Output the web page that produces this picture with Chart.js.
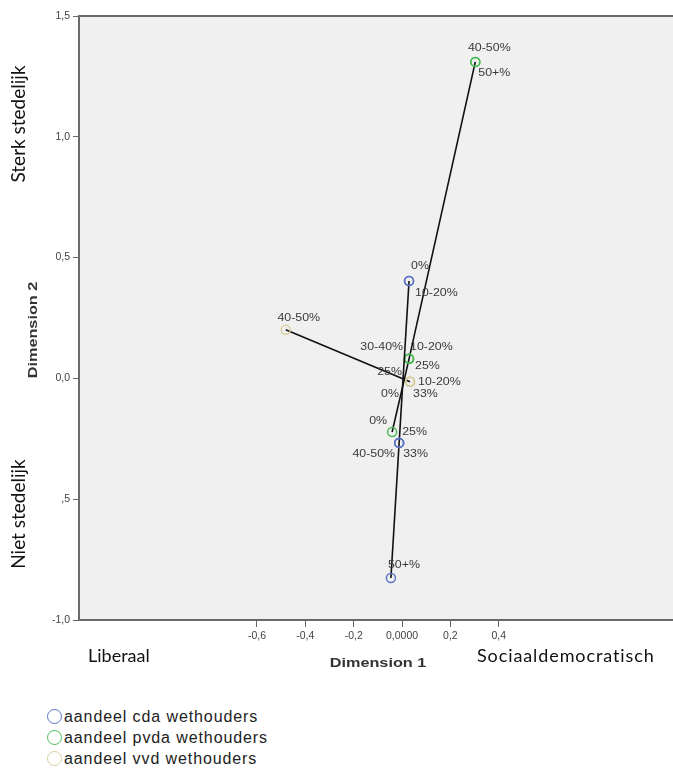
<!DOCTYPE html>
<html>
<head>
<meta charset="utf-8">
<script src="https://cdn.jsdelivr.net/npm/chart.js@4.4.1/dist/chart.umd.min.js"></script>
<style>
  html, body { margin: 0; padding: 0; background: #fff; overflow: hidden; width: 673px; height: 782px; }
  #wrap { position: absolute; left: 0; top: 0; width: 700px; height: 690px; }
  .note { position: absolute; font-family: Lato, "Open Sans", sans-serif; font-size: 18px; color: #111; white-space: nowrap; }
  .rot { transform: translate(-50%, -50%) rotate(-90deg); }
  #legend { position: absolute; left: 47px; top: 706px; font-family: "Liberation Sans", Arial, sans-serif; font-size: 16px; letter-spacing: 0.9px; color: #222; }
  #legend .row { height: 21px; line-height: 21px; display: flex; align-items: center; }
  #legend .dot { width: 13px; height: 13px; border-radius: 50%; border: 1.6px solid; margin-right: 2px; box-sizing: content-box; }
</style>
</head>
<body>
<div id="wrap"><canvas id="chart" width="700" height="690"></canvas></div>

<div class="note rot" style="left:17px; top:124px; font-size:19px;">Sterk stedelijk</div>
<div class="note rot" style="left:17px; top:514px; font-size:19px;">Niet stedelijk</div>
<div class="note" style="left:88px; top:644px;">Liberaal</div>
<div class="note" style="left:477px; top:644px; letter-spacing:0.9px;">Sociaaldemocratisch</div>

<div id="legend"></div>

<script>
// category points (object scores)
const cdaLabels = ['0%', '10-20%', '25%', '33%', '40-50%', '50+%'];
const cdaX = [0.029, 0.029, -0.012, -0.012, -0.012, -0.046];
const cdaY = [0.403, 0.403, -0.267, -0.267, -0.267, -0.826];

const pvdaLabels = ['0%', '10-20%', '25%', '30-40%', '40-50%', '50+%'];
const pvdaX = [-0.041, 0.029, 0.029, 0.029, 0.303, 0.303];
const pvdaY = [-0.222, 0.081, 0.081, 0.081, 1.310, 1.310];

const vvdLabels = ['0%', '10-20%', '25%', '33%', '40-50%'];
const vvdX = [0.033, 0.033, 0.033, 0.033, -0.481];
const vvdY = [-0.014, -0.014, -0.014, -0.014, 0.201];

const seriesNames = ['aandeel cda wethouders', 'aandeel pvda wethouders', 'aandeel vvd wethouders'];

const xTicks = [-0.6, -0.4, -0.2, 0, 0.2, 0.4];
const xTickLabels = ['-0,6', '-0,4', '-0,2', '0,0000', '0,2', '0,4'];
const yTicks = [-1.0, -0.5, 0, 0.5, 1.0, 1.5];
const yTickLabels = ['-1,0', ',5', '0,0', '0,5', '1,0', '1,5'];

// label placement around each point: [dx, dy, align]
const cdaLabelPos = [[11, -15, 'center'], [6, 12, 'left'], [3, -11, 'left'], [4, 11, 'left'], [-4, 11, 'right'], [-3, -13, 'left']];
const pvdaLabelPos = [[-5, -11, 'right'], [1, -12, 'left'], [6, 7, 'left'], [-6, -12, 'right'], [14, -14, 'center'], [3, 11, 'left']];
const vvdLabelPos = [[-11, 12, 'right'], [8, 0, 'left'], [-8, -10, 'right'], [3, 12, 'left'], [13, -12, 'center']];

const colors = ['#5b74c4', '#4cbb56', '#d6cf9f'];
const FONT = '"Liberation Sans", Arial, sans-serif';

function pts(xs, ys) {
  return xs.map((x, i) => ({ x, y: ys[i] }));
}

function makeSet(name, xs, ys, color, labels, pos) {
  return {
    label: name,
    data: pts(xs, ys),
    showLine: true,
    borderColor: '#111',
    borderWidth: 1.6,
    pointRadius: 4.5,
    pointBorderWidth: 1.5,
    pointBorderColor: color,
    pointBackgroundColor: 'rgba(0,0,0,0)',
    pointLabels: labels,
    pointLabelPos: pos
  };
}

const bgFrame = {
  id: 'bgFrame',
  beforeDraw(chart) {
    const { ctx, chartArea: a } = chart;
    ctx.save();
    ctx.fillStyle = '#f0f0f0';
    ctx.fillRect(a.left, a.top, a.right - a.left + 10, a.bottom - a.top);
    ctx.strokeStyle = '#6a6a6a';
    ctx.lineWidth = 2;
    ctx.beginPath();
    ctx.moveTo(a.right + 10, a.top);
    ctx.lineTo(a.left, a.top);
    ctx.lineTo(a.left, a.bottom);
    ctx.lineTo(a.right + 10, a.bottom);
    ctx.stroke();
    ctx.restore();
  }
};

// the SPSS export is stretched sideways, so text is drawn a bit wide
function wideText(ctx, text, x, y, sx) {
  ctx.save();
  ctx.translate(x, y);
  ctx.scale(sx, 1);
  ctx.fillText(text, 0, 0);
  ctx.restore();
}

const pointLabels = {
  id: 'pointLabels',
  afterDatasetsDraw(chart) {
    const ctx = chart.ctx;
    ctx.save();
    ctx.font = '10.5px ' + FONT;
    ctx.fillStyle = '#3a3a3a';
    ctx.textBaseline = 'middle';
    chart.data.datasets.forEach((ds, di) => {
      const meta = chart.getDatasetMeta(di);
      meta.data.forEach((el, i) => {
        const p = ds.pointLabelPos[i];
        ctx.textAlign = p[2];
        wideText(ctx, ds.pointLabels[i], el.x + p[0], el.y + p[1], 1.18);
      });
    });
    ctx.restore();
  }
};

const axisTitles = {
  id: 'axisTitles',
  afterDraw(chart) {
    const ctx = chart.ctx;
    ctx.save();
    ctx.font = 'bold 13px ' + FONT;
    ctx.fillStyle = '#333';
    ctx.textAlign = 'center';
    ctx.textBaseline = 'middle';
    wideText(ctx, 'Dimension 1', 378, 663, 1.25);
    ctx.translate(33, 330);
    ctx.rotate(-Math.PI / 2);
    wideText(ctx, 'Dimension 2', 0, 0, 1.25);
    ctx.restore();
  }
};

new Chart(document.getElementById('chart'), {
  type: 'scatter',
  data: {
    datasets: [
      makeSet(seriesNames[0], cdaX, cdaY, colors[0], cdaLabels, cdaLabelPos),
      makeSet(seriesNames[1], pvdaX, pvdaY, colors[1], pvdaLabels, pvdaLabelPos),
      makeSet(seriesNames[2], vvdX, vvdY, colors[2], vvdLabels, vvdLabelPos)
    ]
  },
  options: {
    responsive: false,
    devicePixelRatio: 1,
    animation: false,
    layout: { padding: { top: 16, left: 0, right: 0, bottom: 0 } },
    plugins: { legend: { display: false }, tooltip: { enabled: false } },
    scales: {
      x: {
        type: 'linear',
        min: -1.336,
        max: 1.2075,
        afterBuildTicks: s => { s.ticks = xTicks.map(v => ({ value: v })); },
        afterFit: s => { s.height = 70; },
        ticks: {
          autoSkip: false, maxRotation: 0, padding: 3, color: '#444',
          font: { size: 10.5, family: FONT },
          callback: v => xTickLabels[xTicks.indexOf(v)]
        },
        grid: { drawOnChartArea: false, drawTicks: true, tickLength: 7, color: '#666' },
        border: { display: false }
      },
      y: {
        type: 'linear',
        min: -1.0,
        max: 1.5,
        afterBuildTicks: s => { s.ticks = yTicks.map(v => ({ value: v })); },
        afterFit: s => { s.width = 79; },
        ticks: {
          autoSkip: false, padding: 3, color: '#444',
          font: { size: 10.5, family: FONT },
          callback: v => yTickLabels[yTicks.indexOf(v)]
        },
        grid: { drawOnChartArea: false, drawTicks: true, tickLength: 6, color: '#666' },
        border: { display: false }
      }
    }
  },
  plugins: [bgFrame, pointLabels, axisTitles]
});

// legend below the chart
const legendEl = document.getElementById('legend');
seriesNames.forEach((name, i) => {
  const row = document.createElement('div');
  row.className = 'row';
  row.innerHTML = `<span class="dot" style="border-color:${colors[i]}"></span><span>${name}</span>`;
  legendEl.appendChild(row);
});
</script>
</body>
</html>
